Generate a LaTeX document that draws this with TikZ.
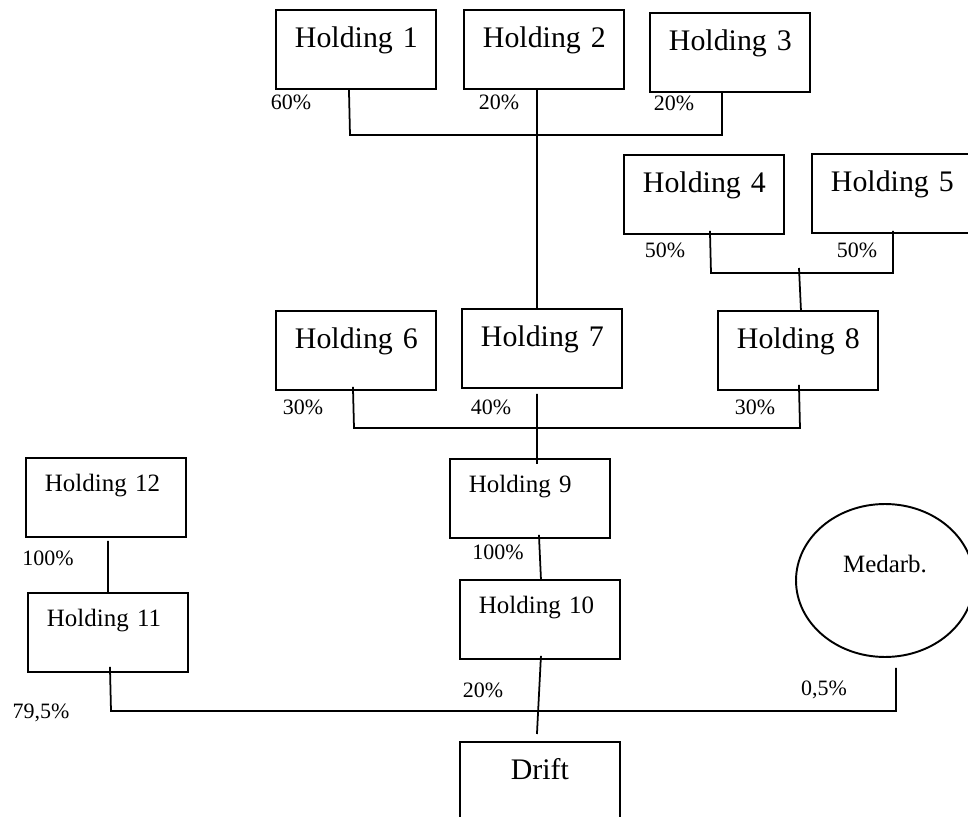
\documentclass[tikz,border=0pt]{standalone}
\usepackage{fontspec}
\setmainfont{Liberation Serif}
\usetikzlibrary{shapes.geometric}

\begin{document}
\begin{tikzpicture}[x=0.02cm, y=-0.02cm,
          box/.style={draw, line width=1.1pt, anchor=north west,
                      minimum width=3.2cm, text width=3.2cm,
                      inner xsep=0pt, inner ysep=0pt,
                      text height=0.76cm, text depth=0.82cm,
                      font=\fontsize{17}{20}\selectfont},
          holding/.style={box, align=left,
                      execute at begin node={\hspace*{0.38cm}}},
          smallholding/.style={holding, text height=0.68cm, text depth=0.9cm,
                      font=\fontsize{14.2}{17}\selectfont},
          pct/.style={inner sep=0pt, font=\fontsize{12.5}{15}\selectfont},
          link/.style={line width=1pt}
        ]
        \useasboundingbox (0,0) rectangle (968,817);
        \clip (0,0) rectangle (968,817);

        % Top holdings
        \node[holding] (h1) at (275,9) {Holding 1};
        \node[holding] (h2) at (463,9) {Holding 2};
        \node[holding] (h3) at (649,12) {Holding 3};
        \node[pct] (p1) at (291,102) {60\%};
        \node[pct] (p2) at (499,102) {20\%};
        \node[pct] (p3) at (674,103) {20\%};
        \coordinate (bus1w) at (350,135);
        \coordinate (bus1e) at (722,135);
        \draw[link] ([xshift=-0.14cm]h1.south) -- (bus1w) -- (bus1e)
              -- ([xshift=-0.16cm]h3.south);

        % Holding 4 and 5
        \node[holding] (h4) at (623,154) {Holding 4};
        \node[holding] (h5) at (811,153) {Holding 5};
        \node[pct] (p4) at (665,250) {50\%};
        \node[pct] (p5) at (857,250) {50\%};
        \coordinate (bus2w) at (711,273);
        \coordinate (bus2e) at (893,273);
        \coordinate (bus2m) at (799,268);
        \draw[link] ([xshift=0.12cm,yshift=0.08cm]h4.south) -- (bus2w) -- (bus2e)
              -- ([xshift=0.02cm,yshift=0.06cm]h5.south);

        % Middle row
        \node[holding] (h6) at (275,310) {Holding 6};
        \node[holding] (h7) at (461,308) {Holding 7};
        \node[holding] (h8) at (717,310) {Holding 8};
        \node[pct] (p6) at (303,407) {30\%};
        \node[pct] (p7) at (491,407) {40\%};
        \node[pct] (p8) at (755,407) {30\%};
        \draw[link] ([xshift=-0.14cm]h2.south) -- ([xshift=-0.1cm]h7.north);
        \draw[link] (bus2m) -- ([xshift=0.06cm]h8.north);
        \coordinate (bus3w) at (354,428);
        \coordinate (bus3e) at (800,428);
        \draw[link] ([xshift=-0.06cm,yshift=0.08cm]h6.south) -- (bus3w) -- (bus3e)
              -- ([xshift=0.02cm,yshift=0.12cm]h8.south);

        % Holding 9 to 12
        \node[smallholding] (h9) at (449,458) {Holding 9};
        \node[smallholding] (h10) at (459,579) {Holding 10};
        \node[smallholding] (h12) at (25,457) {Holding 12};
        \node[smallholding] (h11) at (27,592) {Holding 11};
        \node[pct] (p9) at (498,552) {100\%};
        \node[pct] (p12) at (48,558) {100\%};
        \draw[link] ([xshift=-0.1cm,yshift=-0.1cm]h7.south)
              -- ([xshift=0.14cm,yshift=-0.12cm]h9.north);
        \draw[link] ([xshift=0.18cm,yshift=0.08cm]h9.south)
              -- ([xshift=0.02cm]h10.north);
        \draw[link] ([xshift=0.04cm,yshift=-0.06cm]h12.south) -- (h11.north);

        % Medarb. and Drift
        \node[draw, ellipse, line width=1.1pt, minimum width=3.56cm,
              minimum height=3.06cm, inner sep=0pt, text height=0.2cm,
              text depth=0.54cm, font=\fontsize{14.2}{17}\selectfont]
              (med) at (885,580.5) {Medarb.};
        \node[box, align=center] (drift) at (459,741) {Drift};
        \node[pct] (p11) at (41,713) {79,5\%};
        \node[pct] (p10) at (483,690) {20\%};
        \node[pct] (pm) at (824,690) {0,5\%};
        \coordinate (bus4w) at (111,711);
        \coordinate (bus4e) at (896,711);
        \draw[link] ([xshift=0.04cm,yshift=0.12cm]h11.south) -- (bus4w) -- (bus4e)
              -- ([xshift=0.22cm,yshift=-0.2cm]med.south);
        \draw[link] ([xshift=0.02cm,yshift=0.08cm]h10.south)
              -- ([xshift=-0.06cm,yshift=0.14cm]drift.north);
      \end{tikzpicture}
\end{document}
